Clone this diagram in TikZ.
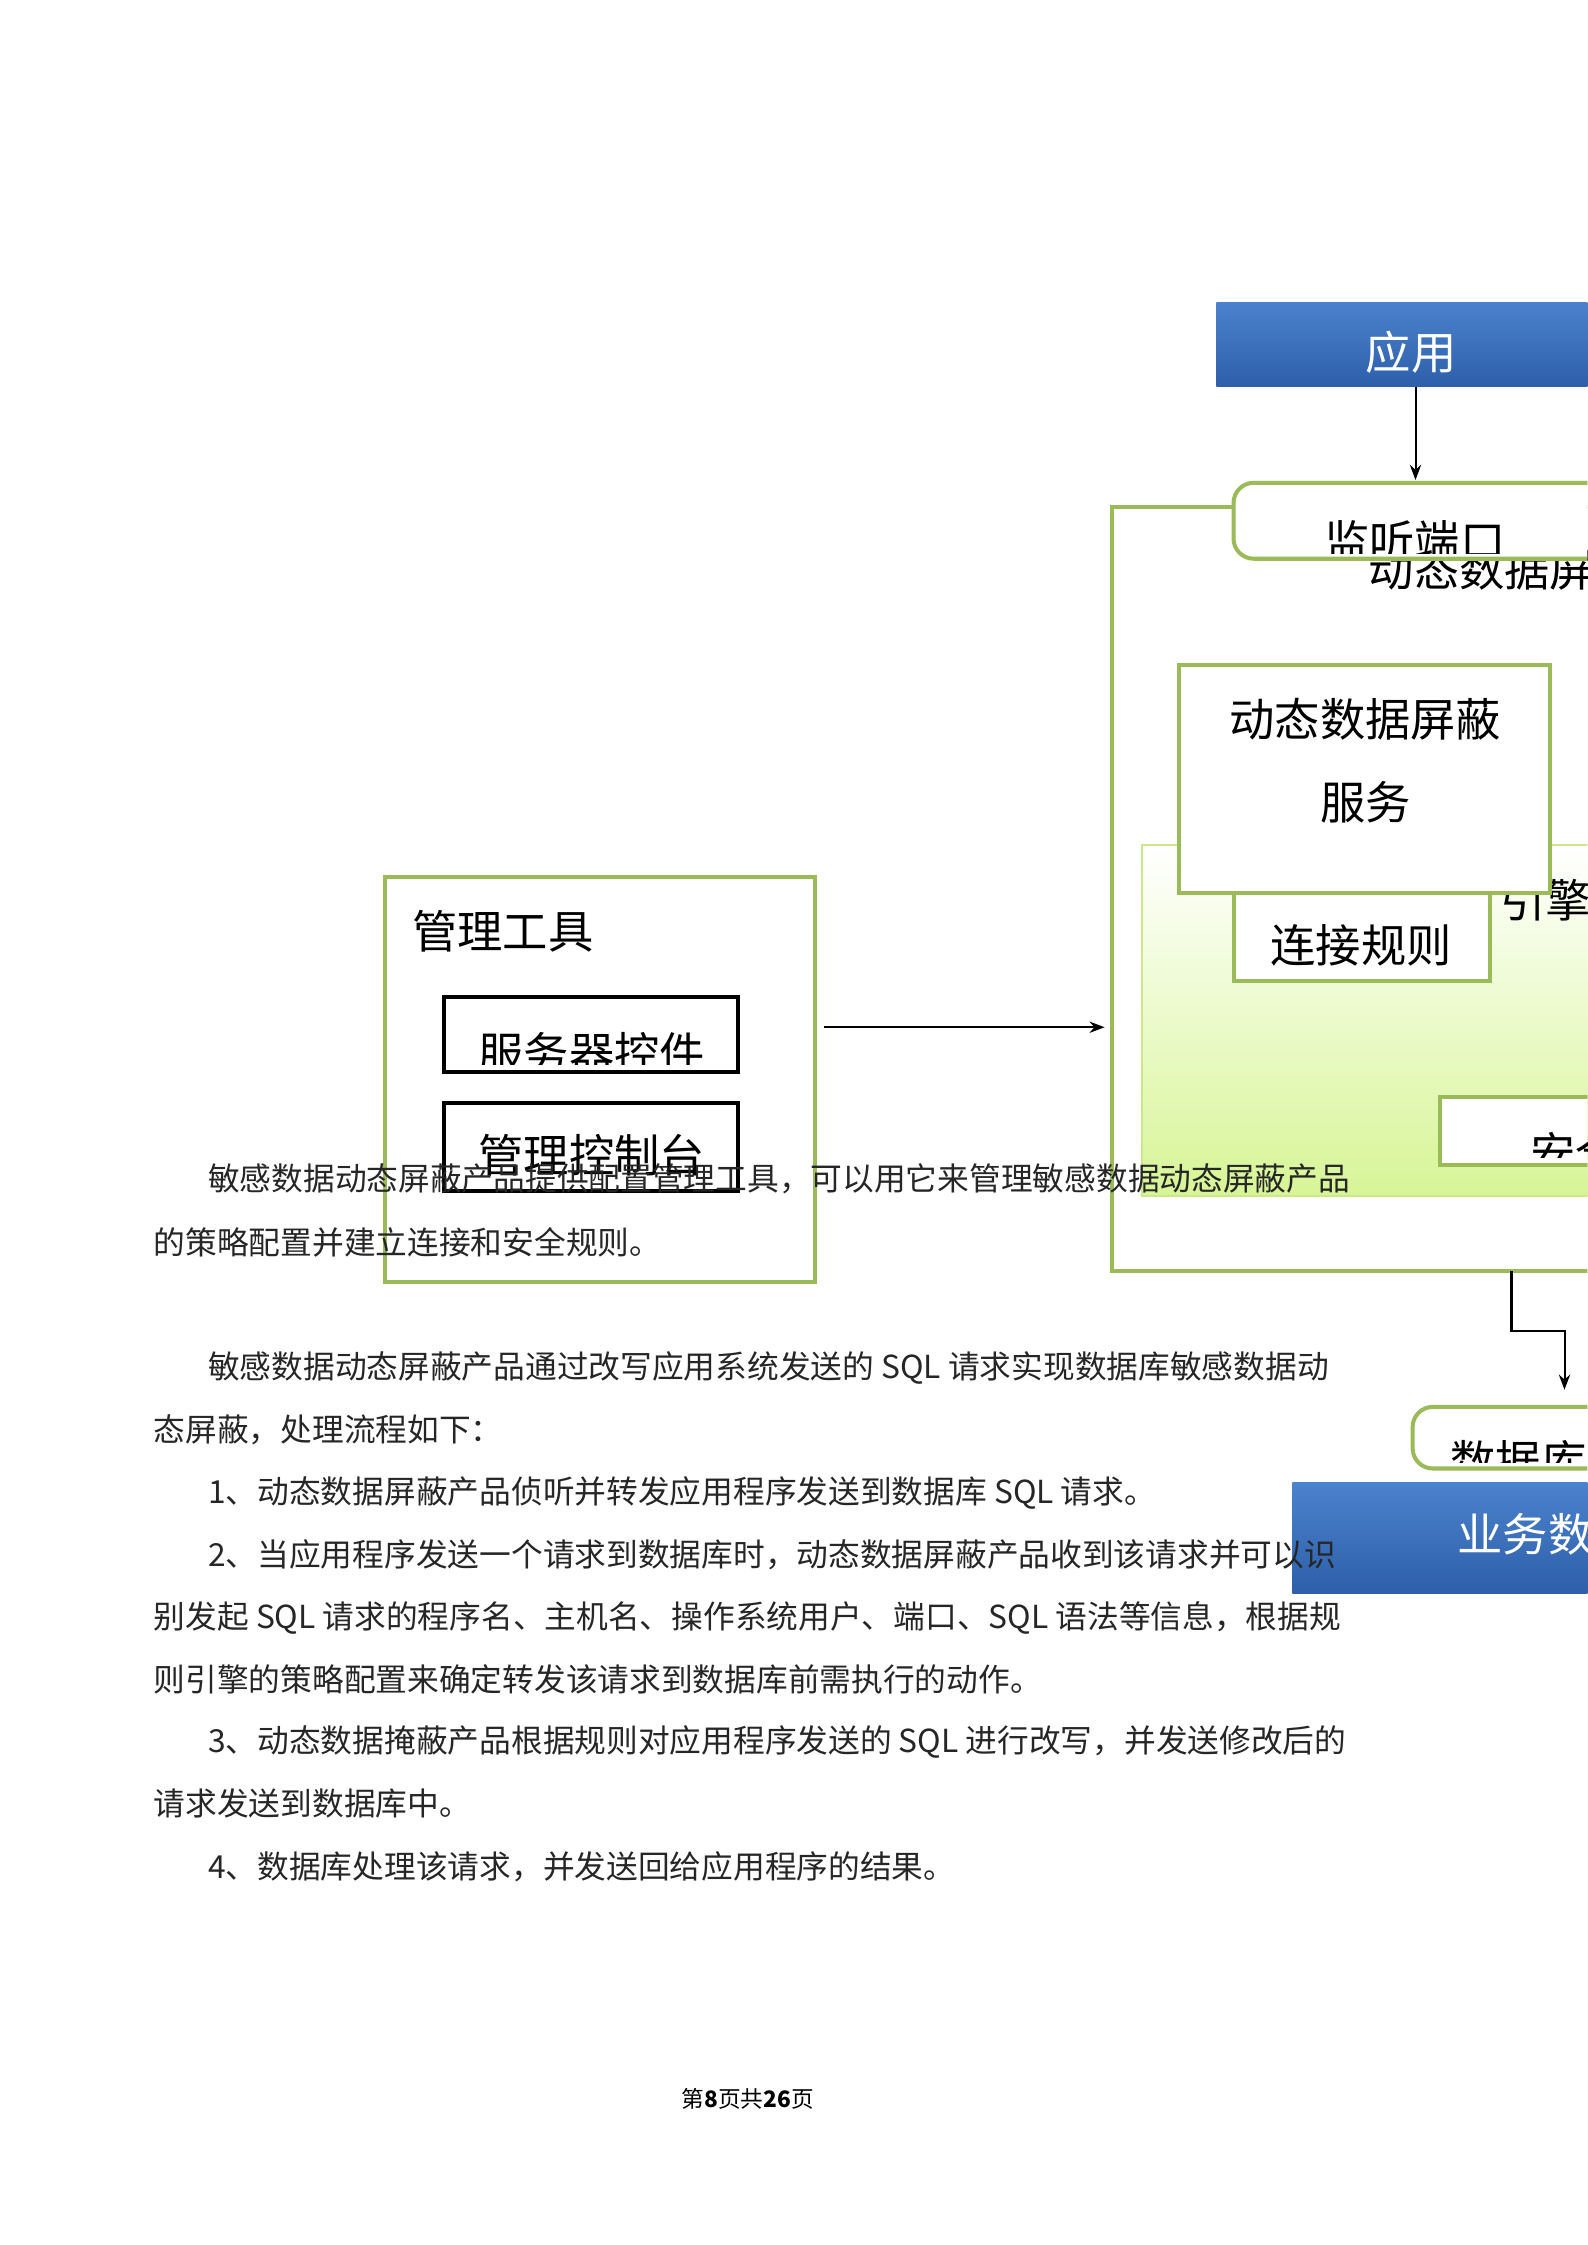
\documentclass[tikz,border=0pt]{standalone}
\usepackage{fontspec}
\setmainfont{Liberation Sans}
\newfontfamily\cjk{Noto Sans CJK SC}
\usetikzlibrary{arrows.meta}
\definecolor{gline}{RGB}{155,187,89}
\definecolor{bluetop}{RGB}{75,130,205}
\definecolor{bluebot}{RGB}{45,95,170}
\definecolor{lgreen}{RGB}{215,245,150}
\tikzset{
 gbox/.style={draw=gline,line width=1.6pt,fill=white},
 bbox/.style={draw=black,line width=1.6pt,fill=white},
 lbl/.style={font=\cjk\fontsize{18}{22}\selectfont,inner sep=0pt},
 body/.style={font=\cjk\fontsize{12.6}{15}\selectfont,anchor=west,inner sep=0pt,text=black!85},
 arr/.style={-{Stealth[length=6pt]},line width=0.8pt},
}
\begin{document}
\begin{tikzpicture}[x=0.02cm,y=-0.02cm]
\useasboundingbox (0,0) rectangle (1108,1567);
\clip (0,0) rectangle (1108,1567);
\fill[white] (0,0) rectangle (1108,1567);
% app
\shade[top color=bluetop,bottom color=bluebot] (849,211) rectangle (1120,270);
\node[lbl,text=white] (app) at (985,246) {应用};
% outer green
\draw[gline,line width=1.6pt] (776,354) rectangle (1130,887);
\node[lbl,anchor=west] (dyn) at (955,397) {动态数据屏蔽};
\draw[gbox,rounded corners=8pt] (861,337) rectangle (1130,390);
\begin{scope}
\clip (861,337) rectangle (1130,386);
\node[lbl,anchor=west] (listen) at (924,378) {监听端口};
\end{scope}
\coordinate (listenTop) at (988,335);
\draw[arr] (988,270) -- (listenTop);
% gradient engine area
\shade[top color=white,bottom color=lgreen] (797,590) rectangle (1130,835);
\draw[lgreen!80!gline,line width=0.8pt] (797,590) rectangle (1130,835);
\node[lbl,anchor=west] (engine) at (1047,628) {引擎};
\draw[gbox] (823,464) rectangle (1082,623);
\node[lbl] (svc1) at (953,502) {动态数据屏蔽};
\node[lbl] (svc2) at (953,560) {服务};
\draw[gbox] (861,623) rectangle (1040,685);
\node[lbl] (conn) at (950,660) {连接规则};
\draw[gbox] (1005,766) rectangle (1130,813);
\begin{scope}
\clip (1005,766) rectangle (1130,808);
\node[lbl,anchor=west] (sec) at (1068,805) {安全};
\end{scope}
% management
\draw[gline,line width=1.6pt] (269,612) rectangle (569,895);
\node[lbl] (mgmt) at (351,650) {管理工具};
\draw[bbox] (310,696) rectangle (515,748);
\begin{scope}
\clip (310,696) rectangle (515,743);
\node[lbl] (ctrl) at (413,735) {服务器控件};
\end{scope}
\draw[bbox] (310,770) rectangle (515,831);
\node[lbl] (cons) at (413,806) {管理控制台};
\coordinate (mA) at (575,717);
\coordinate (mB) at (771,717);
\draw[arr] (mA) -- (mB);
% to db
\coordinate (e1) at (1055,887);
\coordinate (e2) at (1092,970);
\draw[arr] (e1) |- (1092,929) -- (e2);
\draw[gbox,rounded corners=8pt] (986,982) rectangle (1130,1025);
\begin{scope}
\clip (986,982) rectangle (1130,1021);
\node[lbl,anchor=west] (db) at (1012,1020) {数据库};
\end{scope}
\shade[top color=bluetop,bottom color=bluebot] (902,1035) rectangle (1130,1112);
\node[lbl,text=white,anchor=west] (biz) at (1017,1071) {业务数据};
% body text
\node[body] (t1) at (145,823) {敏感数据动态屏蔽产品提供配置管理工具，可以用它来管理敏感数据动态屏蔽产品};
\node[body] (t2) at (107,867) {的策略配置并建立连接和安全规则。};
\node[body] (t3) at (145,955) {敏感数据动态屏蔽产品通过改写应用系统发送的 SQL 请求实现数据库敏感数据动};
\node[body] (t4) at (107,998) {态屏蔽，处理流程如下：};
\node[body] (t5) at (145,1042) {1、动态数据屏蔽产品侦听并转发应用程序发送到数据库 SQL 请求。};
\node[body] (t6) at (145,1085) {2、当应用程序发送一个请求到数据库时，动态数据屏蔽产品收到该请求并可以识};
\node[body] (t7) at (107,1129) {别发起 SQL 请求的程序名、主机名、操作系统用户、端口、SQL 语法等信息，根据规};
\node[body] (t8) at (107,1172) {则引擎的策略配置来确定转发该请求到数据库前需执行的动作。};
\node[body] (t9) at (145,1216) {3、动态数据掩蔽产品根据规则对应用程序发送的 SQL 进行改写，并发送修改后的};
\node[body] (t10) at (107,1259) {请求发送到数据库中。};
\node[body] (t11) at (145,1303) {4、数据库处理该请求，并发送回给应用程序的结果。};
\node[font=\cjk\fontsize{9}{10}\selectfont,inner sep=0pt] (foot) at (522,1465) {第\textbf{8}页共\textbf{26}页};
\end{tikzpicture}
\end{document}
